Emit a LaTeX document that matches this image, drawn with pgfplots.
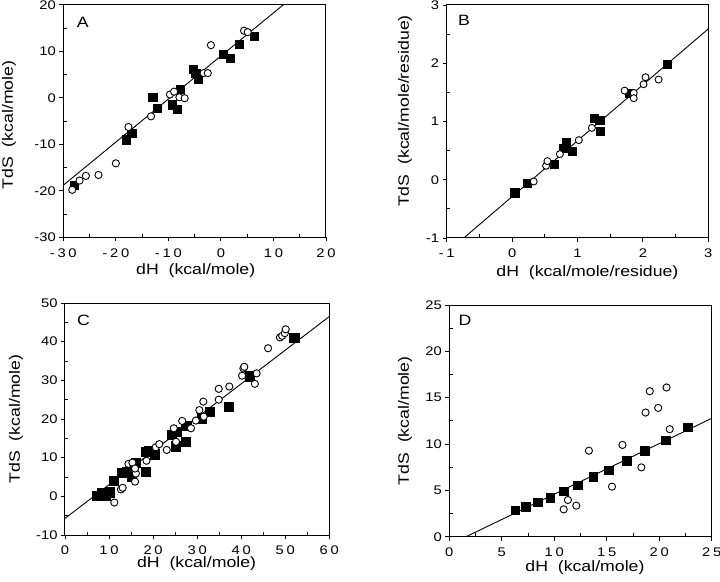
\documentclass[border=0pt]{standalone}
\usepackage{fontspec}
\setmainfont{Liberation Sans}[FakeStretch=1.18]
\newfontfamily\xtfont{Liberation Sans}[FakeStretch=1.18,LetterSpace=22]
\usepackage{pgfplots}
\pgfplotsset{compat=1.18}
\pgfplotsset{
  panel/.style={
    scale only axis,
    axis line style={line width=1pt},
    tick pos=left,
    tick align=outside,
    major tick length=4pt,
    minor tick length=3.5pt,
    minor tick num=1,
    every tick/.append style={black,line width=0.9pt},
    minor tick style={black,line width=0.9pt},
    minor x tick style={yshift=3.5pt},
    minor y tick style={xshift=3.5pt},
    tick label style={font=\fontsize{12.5}{13}\selectfont},
    xticklabel style={font=\fontsize{12.5}{13}\selectfont\xtfont,yshift=-3.5pt},
    label style={font=\fontsize{15}{16}\selectfont},
    ylabel style={anchor=center},
    xlabel style={anchor=center},
    clip marker paths=false,
  },
  reg/.style={black,line width=0.9pt,no marks},
  sq/.style={only marks,mark=square*,mark options={fill=black,draw=black,line width=0.3pt}},
  ci/.style={only marks,mark=*,mark options={fill=white,draw=black,line width=0.9pt}},
}
\begin{document}
\begin{tikzpicture}
\useasboundingbox (0pt,0pt) rectangle (720pt,581pt);
% ---------- A ----------
\begin{axis}[panel,
  at={(63.3pt,343.7pt)},anchor=south west,width=262.7pt,height=232.6pt,
  xmin=-30,xmax=20,ymin=-30,ymax=20,
  xtick={-30,-20,-10,0,10,20},xticklabels={-30,-20,-10,0,10,20},
  ytick={-30,-20,-10,0,10,20},yticklabels={-30,-20,-10,0,10,20},
  xlabel={dH\ \ (kcal/mole)},ylabel={TdS\ \ (kcal/mole)},
  xlabel style={at={(axis description cs:0.504,-0.142)}},
  ylabel style={at={(axis description cs:-0.207,0.483)}},
]
\addplot[reg] coordinates {(-30,-18.8) (20,27.5)};
\addplot[sq,mark size=4.1pt] coordinates {
(-27.9,-18.8) (-18.1,-9.0) (-17.0,-7.6) (-13.0,0.2) (-12.2,-2.2) (-9.3,-1.5)
(-8.3,-2.5) (-7.8,1.9) (-5.3,6.1) (-4.4,4.1) (-4.8,5.2) (0.5,9.3) (1.7,8.5)
(3.5,11.6) (6.3,13.2)};
\addplot[ci,mark size=3.6pt] coordinates {
(-28.3,-19.8) (-26.9,-17.8) (-25.7,-16.8) (-23.3,-16.6) (-20.0,-14.1) (-17.6,-6.3)
(-13.3,-4.0) (-9.7,0.7) (-8.9,1.3) (-7.9,0.1) (-6.9,-0.1) (-3.3,5.3) (-2.5,5.3)
(-1.9,11.3) (4.4,14.4) (5.1,14.1)};
\node[font=\fontsize{15}{16}\selectfont] at (axis description cs:0.074,0.926) {A};
\end{axis}
% ---------- B ----------
\begin{axis}[panel,
  at={(446.7pt,343pt)},anchor=south west,width=261.6pt,height=233pt,
  xmin=-1,xmax=3,ymin=-1,ymax=3,
  xtick={-1,0,1,2,3},xticklabels={-1,0,1,2,3},
  ytick={-1,0,1,2,3},yticklabels={-1,0,1,2,3},
  xlabel={dH\ \ (kcal/mole/residue)},ylabel={TdS\ \ (kcal/mole/residue)},
  xlabel style={at={(axis description cs:0.538,-0.148)}},
  ylabel style={at={(axis description cs:-0.159,0.545)}},
]
\addplot[reg] coordinates {(-1,-1.25) (3,2.59)};
\addplot[sq,mark size=4.1pt] coordinates {
(0.04,-0.22) (0.23,-0.06) (0.64,0.27) (0.78,0.54) (0.83,0.64) (0.92,0.49)
(1.26,1.06) (1.34,1.02) (1.35,0.83) (1.79,1.48) (2.37,1.98)};
\addplot[ci,mark size=3.5pt] coordinates {
(0.33,-0.03) (0.52,0.24) (0.54,0.32) (0.73,0.44) (1.02,0.68) (1.22,0.89)
(1.72,1.53) (1.86,1.49) (1.86,1.40) (2.01,1.64) (2.04,1.76) (2.24,1.72)};
\node[font=\fontsize{15}{16}\selectfont] at (axis description cs:0.066,0.933) {B};
\end{axis}
% ---------- C ----------
\begin{axis}[panel,
  at={(65pt,46pt)},anchor=south west,width=264.3pt,height=232pt,
  xmin=0,xmax=60,ymin=-10,ymax=50,
  xtick={0,10,20,30,40,50,60},xticklabels={0,10,20,30,40,50,60},
  ytick={-10,0,10,20,30,40,50},yticklabels={-10,0,10,20,30,40,50},
  xlabel={dH\ \ (kcal/mole)},ylabel={TdS\ \ (kcal/mole)},
  xlabel style={at={(axis description cs:0.498,-0.125)}},
  ylabel style={at={(axis description cs:-0.185,0.5)}},
]
\addplot[reg] coordinates {(0,-5.7) (60,46.5)};
\addplot[sq,mark size=4.6pt] coordinates {
(7.3,0.2) (8.3,0.8) (9.1,0.2) (10.1,1.1) (11.1,4.0) (12.9,6.1) (14.0,6.4)
(15.1,5.1) (16.1,8.7) (18.3,6.4) (18.4,11.6) (19.1,11.8) (20.3,10.9) (24.2,15.9)
(25.1,13.0) (25.4,16.8) (27.4,14.1) (27.5,18.2) (31.0,20.2) (32.9,21.9)
(37.1,23.2) (42.0,31.1) (52.0,41.0)};
\addplot[ci,mark size=3.6pt] coordinates {
(11.2,-1.6) (12.7,1.8) (13.1,2.2) (14.4,8.4) (15.3,8.7) (15.9,3.8) (16.1,5.9)
(15.9,7.2) (18.5,9.2) (20.6,12.7) (21.4,13.5) (23.1,12.0) (24.7,17.6) (25.2,14.1)
(26.6,19.5) (28.6,17.6) (29.7,19.6) (30.5,22.3) (31.4,24.5) (31.5,20.6)
(34.9,25.0) (34.9,27.8) (37.3,28.4) (40.2,31.2) (40.5,33.1) (40.7,33.5)
(43.1,29.1) (43.5,31.8) (46.1,38.3) (48.8,41.1) (49.3,41.5) (49.9,42.2) (50.1,43.2)};
\node[font=\fontsize{15}{16}\selectfont] at (axis description cs:0.07,0.924) {C};
\end{axis}
% ---------- D ----------
\begin{axis}[panel,
  at={(449.3pt,44.3pt)},anchor=south west,width=262.4pt,height=231.7pt,
  xmin=0,xmax=25,ymin=0,ymax=25,
  xtick={0,5,10,15,20,25},xticklabels={0,5,10,15,20,25},
  ytick={0,5,10,15,20,25},yticklabels={0,5,10,15,20,25},
  xlabel={dH\ \ (kcal/mole)},ylabel={TdS\ \ (kcal/mole)},
  xlabel style={at={(axis description cs:0.517,-0.135)}},
  ylabel style={at={(axis description cs:-0.169,0.5)}},
]
\addplot[reg] coordinates {(0,-0.87) (25,12.77)};
\addplot[sq,mark size=4.3pt] coordinates {
(6.26,2.88) (7.3,3.24) (8.4,3.74) (9.6,4.24) (10.9,4.93) (12.2,5.58)
(13.7,6.47) (15.2,7.19) (16.9,8.2) (18.6,9.28) (20.6,10.43) (22.7,11.8)};
\addplot[ci,mark size=3.6pt] coordinates {
(10.9,2.95) (11.3,3.96) (12.1,3.35) (13.3,9.28) (15.5,5.4) (16.5,9.9)
(18.3,7.48) (18.7,13.4) (19.1,15.7) (19.9,13.9) (20.7,16.1) (21.0,11.6)};
\node[font=\fontsize{15}{16}\selectfont] at (axis description cs:0.06,0.932) {D};
\end{axis}
\end{tikzpicture}
\end{document}
